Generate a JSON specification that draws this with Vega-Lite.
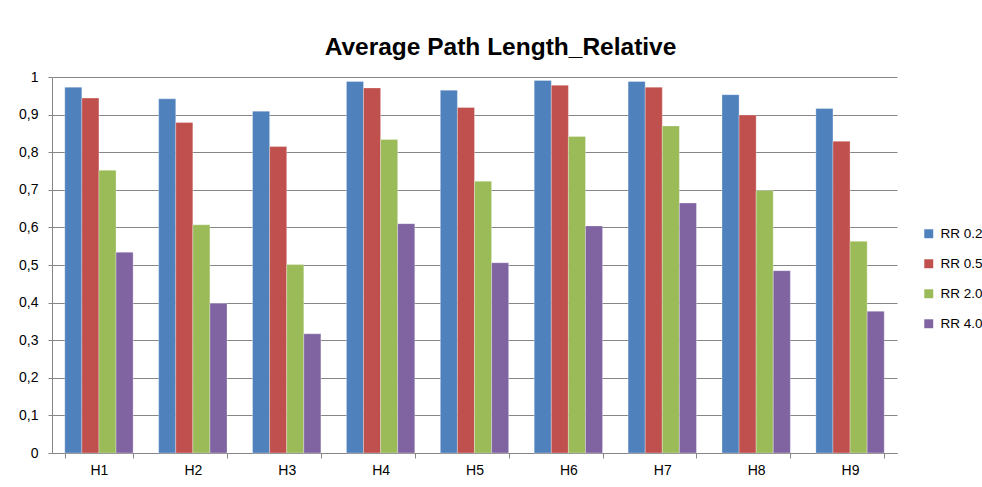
{
  "$schema": "https://vega.github.io/schema/vega-lite/v6.json",
  "autosize": "none",
  "width": 845,
  "height": 376,
  "padding": {"left": 52, "top": 77, "right": 85, "bottom": 34},
  "background": "white",
  "title": {
    "text": "Average Path Length_Relative",
    "font": "Liberation Sans",
    "fontSize": 24.5,
    "fontWeight": "bold",
    "color": "#000000",
    "anchor": "middle",
    "dx": 26,
    "offset": 10
  },
  "data": {
    "values": [
      {"h": "H1", "rr": "RR 0.2", "v": 0.973},
      {"h": "H1", "rr": "RR 0.5", "v": 0.944},
      {"h": "H1", "rr": "RR 2.0", "v": 0.752},
      {"h": "H1", "rr": "RR 4.0", "v": 0.534},
      {"h": "H2", "rr": "RR 0.2", "v": 0.942},
      {"h": "H2", "rr": "RR 0.5", "v": 0.879},
      {"h": "H2", "rr": "RR 2.0", "v": 0.607},
      {"h": "H2", "rr": "RR 4.0", "v": 0.398},
      {"h": "H3", "rr": "RR 0.2", "v": 0.909},
      {"h": "H3", "rr": "RR 0.5", "v": 0.815},
      {"h": "H3", "rr": "RR 2.0", "v": 0.501},
      {"h": "H3", "rr": "RR 4.0", "v": 0.317},
      {"h": "H4", "rr": "RR 0.2", "v": 0.988},
      {"h": "H4", "rr": "RR 0.5", "v": 0.971},
      {"h": "H4", "rr": "RR 2.0", "v": 0.834},
      {"h": "H4", "rr": "RR 4.0", "v": 0.610},
      {"h": "H5", "rr": "RR 0.2", "v": 0.965},
      {"h": "H5", "rr": "RR 0.5", "v": 0.919},
      {"h": "H5", "rr": "RR 2.0", "v": 0.723},
      {"h": "H5", "rr": "RR 4.0", "v": 0.506},
      {"h": "H6", "rr": "RR 0.2", "v": 0.991},
      {"h": "H6", "rr": "RR 0.5", "v": 0.978},
      {"h": "H6", "rr": "RR 2.0", "v": 0.842},
      {"h": "H6", "rr": "RR 4.0", "v": 0.604},
      {"h": "H7", "rr": "RR 0.2", "v": 0.988},
      {"h": "H7", "rr": "RR 0.5", "v": 0.973},
      {"h": "H7", "rr": "RR 2.0", "v": 0.870},
      {"h": "H7", "rr": "RR 4.0", "v": 0.665},
      {"h": "H8", "rr": "RR 0.2", "v": 0.953},
      {"h": "H8", "rr": "RR 0.5", "v": 0.899},
      {"h": "H8", "rr": "RR 2.0", "v": 0.698},
      {"h": "H8", "rr": "RR 4.0", "v": 0.485},
      {"h": "H9", "rr": "RR 0.2", "v": 0.916},
      {"h": "H9", "rr": "RR 0.5", "v": 0.829},
      {"h": "H9", "rr": "RR 2.0", "v": 0.563},
      {"h": "H9", "rr": "RR 4.0", "v": 0.377}
    ]
  },
  "mark": {"type": "bar", "strokeWidth": 0.6, "strokeOpacity": 0.5, "stroke": "#ffffff"},
  "encoding": {
    "x": {
      "field": "h",
      "type": "nominal",
      "sort": null,
      "title": null,
      "scale": {"paddingInner": 0.272, "paddingOuter": 0.136},
      "axis": {
        "labelAngle": 0,
        "tickBand": "extent",
        "tickSize": 5,
        "labelPadding": 5,
        "labelFontSize": 14,
        "labelFont": "Liberation Sans",
        "labelColor": "#000000",
        "domainColor": "#868686",
        "tickColor": "#868686",
        "grid": false
      }
    },
    "xOffset": {"field": "rr", "type": "nominal", "sort": null},
    "y": {
      "field": "v",
      "type": "quantitative",
      "title": null,
      "scale": {"domain": [0, 1], "nice": false},
      "axis": {
        "values": [0, 0.1, 0.2, 0.3, 0.4, 0.5, 0.6, 0.7, 0.8, 0.9, 1],
        "labelExpr": "replace(format(datum.value, '~g'), '.', ',')",
        "tickSize": 4,
        "labelPadding": 10,
        "labelFontSize": 14,
        "labelFont": "Liberation Sans",
        "labelColor": "#000000",
        "domainColor": "#868686",
        "tickColor": "#868686",
        "gridColor": "#868686",
        "gridWidth": 1
      }
    },
    "color": {
      "field": "rr",
      "type": "nominal",
      "sort": null,
      "title": null,
      "scale": {
        "domain": ["RR 0.2", "RR 0.5", "RR 2.0", "RR 4.0"],
        "range": ["#4F81BD", "#C0504D", "#9BBB59", "#8064A2"]
      },
      "legend": {
        "orient": "none",
        "legendX": 870,
        "legendY": 150,
        "symbolType": "square",
        "symbolSize": 80,
        "symbolStrokeWidth": 0,
        "rowPadding": 15,
        "labelFontSize": 13.5,
        "labelFont": "Liberation Sans",
        "labelColor": "#000000",
        "labelOffset": 5
      }
    }
  },
  "config": {
    "view": {"stroke": null},
    "axis": {"domainWidth": 1}
  }
}
